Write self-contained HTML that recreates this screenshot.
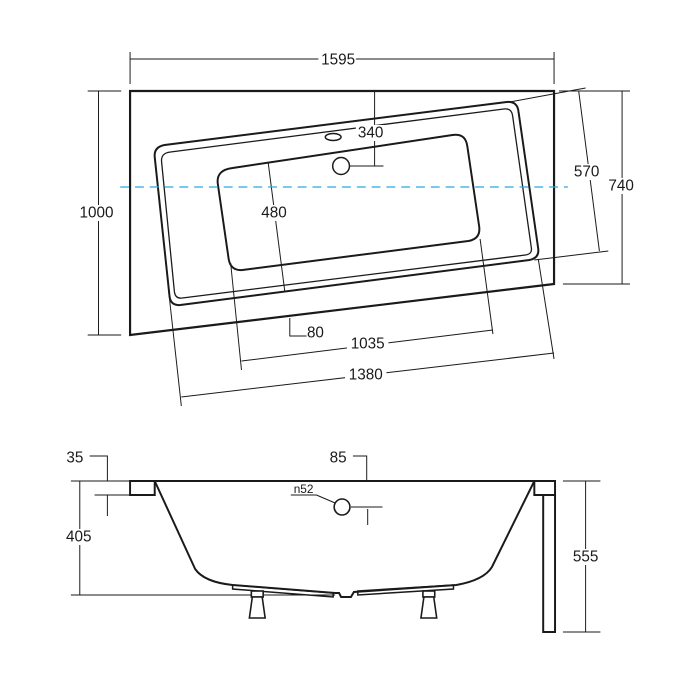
<!DOCTYPE html>
<html><head><meta charset="utf-8"><style>
html,body{margin:0;padding:0;background:#fff}
svg{display:block}
text{font-family:"Liberation Sans",Arial,sans-serif;font-size:15.5px;fill:#1a1a1a;text-anchor:middle;dominant-baseline:central}
</style></head><body>
<svg width="700" height="700" viewBox="0 0 700 700" xmlns="http://www.w3.org/2000/svg">
<g transform="translate(0.9,0) scale(0.986,1)">
<g fill="none" stroke="#1a1a1a" stroke-width="1">
<line x1="131" y1="59" x2="561" y2="59"/>
<line x1="131" y1="52" x2="131" y2="84"/><line x1="561" y1="52" x2="561" y2="84"/>
<line x1="99" y1="91" x2="99" y2="335"/>
<line x1="88" y1="91" x2="122" y2="91"/><line x1="88" y1="335" x2="122" y2="335"/>
<line x1="630" y1="91" x2="630" y2="284"/>
<line x1="566" y1="91" x2="638" y2="91"/><line x1="570" y1="284" x2="638" y2="284"/>
<line x1="586" y1="91" x2="607" y2="251"/>
<line x1="516" y1="102" x2="593" y2="88"/>
<line x1="541" y1="260" x2="616" y2="251"/>
<line x1="379" y1="91" x2="379" y2="166"/><line x1="352" y1="166" x2="388" y2="166"/>
<line x1="271" y1="162" x2="288" y2="292"/>
<polyline points="293,318 293,336 310,336"/>
<line x1="233" y1="263" x2="244" y2="370"/>
<line x1="486" y1="239" x2="499" y2="334"/>
<line x1="244" y1="361" x2="499" y2="330"/>
<line x1="170" y1="290" x2="183" y2="406"/>
<line x1="545" y1="259" x2="561" y2="359"/>
<line x1="183" y1="397" x2="561" y2="353"/>
</g>
<polygon points="131,91 561,91 561,284 131,335" fill="none" stroke="#1a1a1a" stroke-width="2.2"/>
<path d="M166,145 L513,102 Q524,101 525,112 L545,249 Q546,258 536,260 L182,305 Q172,306 171,296 L156,157 Q155,147 166,145 Z" fill="none" stroke="#1a1a1a" stroke-width="2"/>
<path d="M172,152 L510,109 Q518,108 519,116 L538,248 Q539,254 532,255 L184,298 Q177,299 176,292 L163,162 Q162,153 172,152 Z" fill="none" stroke="#1a1a1a" stroke-width="1.3"/>
<path d="M235,168 L458,135 Q471,133 473,146 L485,226 Q487,239 474,241 L245,270 Q233,271 231,259 L220,184 Q218,170 235,168 Z" fill="none" stroke="#1a1a1a" stroke-width="2"/>
<ellipse cx="337" cy="137" rx="8" ry="3.5" fill="none" stroke="#1a1a1a" stroke-width="1.5"/>
<circle cx="345" cy="166" r="8.5" fill="#fff" stroke="#1a1a1a" stroke-width="1.5"/>
<line x1="121" y1="187" x2="575" y2="187" stroke="#29a9e0" stroke-width="1.2" stroke-dasharray="9,6"/>
<rect x="322" y="51" width="38" height="16" fill="#fff"/><text x="342" y="60">1595</text>
<rect x="78" y="205" width="40" height="16" fill="#fff"/><text x="97" y="213">1000</text>
<rect x="614" y="178" width="32" height="16" fill="#fff"/><text x="629" y="186">740</text>
<rect x="580" y="164" width="30" height="16" fill="#fff"/><text x="594" y="172">570</text>
<rect x="360" y="125" width="32" height="16" fill="#fff"/><text x="375" y="133">340</text>
<rect x="262" y="205" width="30" height="16" fill="#fff"/><text x="277" y="213">480</text>
<text x="319" y="333">80</text>
<rect x="351" y="336" width="42" height="16" fill="#fff"/><text x="372" y="344">1035</text>
<rect x="349" y="367" width="42" height="16" fill="#fff"/><text x="370" y="375">1380</text>
<g fill="none" stroke="#1a1a1a" stroke-width="1">
<polyline points="90,456 108,456 108,481"/>
<polyline points="95,495 131,495"/><line x1="108" y1="495" x2="108" y2="516"/>
<polyline points="357,456 371,456 371,481"/>
<line x1="80" y1="481" x2="80" y2="595"/>
<line x1="71" y1="481" x2="131" y2="481"/><line x1="71" y1="595" x2="339" y2="595"/>
<line x1="593" y1="481" x2="593" y2="632"/>
<line x1="570" y1="481" x2="608" y2="481"/><line x1="570" y1="632" x2="608" y2="632"/>
<line x1="355" y1="507" x2="387" y2="507"/><line x1="372" y1="509" x2="372" y2="525"/>
<line x1="294" y1="495" x2="320" y2="495"/><line x1="320" y1="495" x2="339" y2="503"/>
</g>
<g fill="none" stroke="#1a1a1a" stroke-width="2">
<line x1="131" y1="481" x2="562" y2="481"/>
<rect x="131" y="481" width="25" height="14"/>
<rect x="541" y="481" width="21" height="14"/>
<rect x="550" y="495" width="12" height="137"/>
<path d="M156,481 L197,569 Q206,582 235,585 L339,593 L343,593 L345,597 L355,597 L358,592 L462,585 Q490,580 498,567 L541,481"/>
<polygon points="235,585 337,593 337,597 235,589" stroke-width="1.5"/>
<polygon points="362,591 459,585 459,589 362,595" stroke-width="1.5"/>
</g>
<g fill="#fff" stroke="#1a1a1a" stroke-width="1.6">
<rect x="254" y="591" width="12" height="6"/>
<polygon points="255,597 265,597 268,618 252,618"/>
<rect x="428" y="591" width="12" height="6"/>
<polygon points="429,597 439,597 442,618 426,618"/>
</g>
<circle cx="346" cy="507" r="8" fill="#fff" stroke="#1a1a1a" stroke-width="1.6"/>
<text x="75" y="458">35</text>
<text x="342" y="458">85</text>
<text x="307" y="489" style="font-size:12px">n52</text>
<rect x="63" y="529" width="32" height="16" fill="#fff"/><text x="79" y="537">405</text>
<rect x="577" y="549" width="32" height="16" fill="#fff"/><text x="593" y="557">555</text>
</g>
</svg>
</body></html>
